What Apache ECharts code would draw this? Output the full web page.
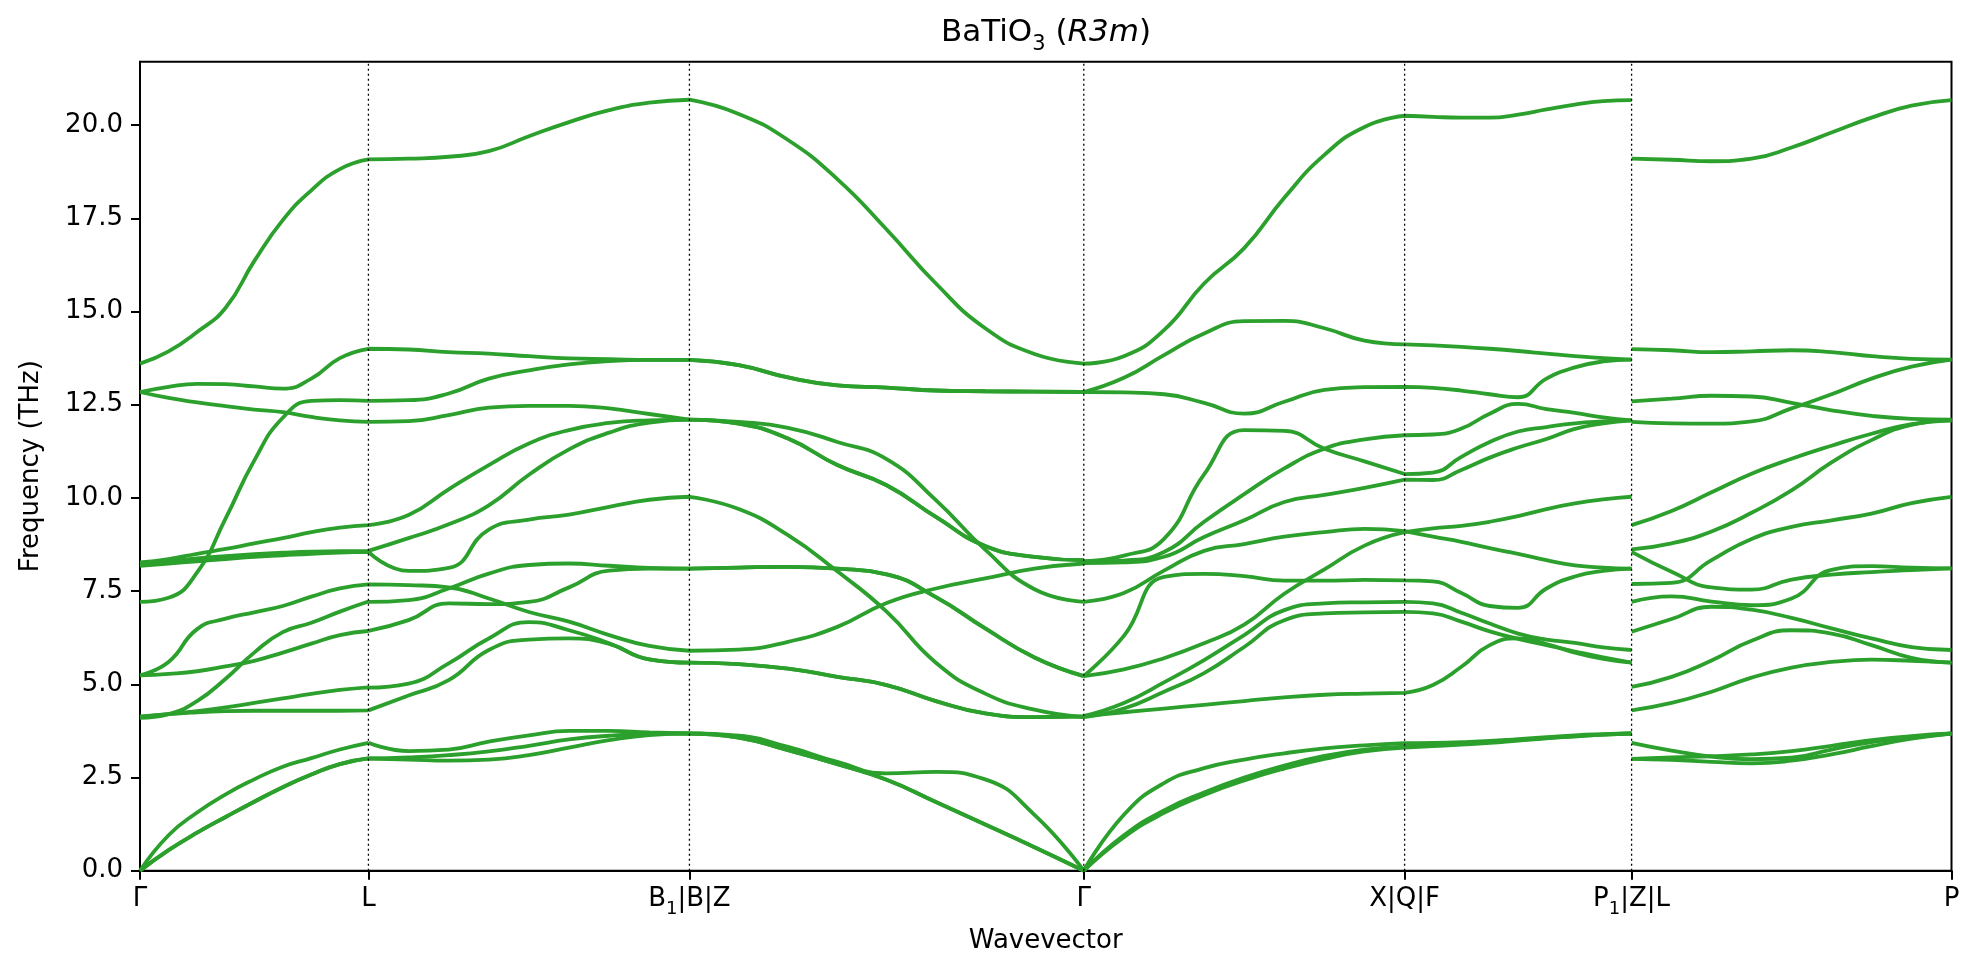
<!DOCTYPE html>
<html>
<head>
<meta charset="utf-8">
<title>BaTiO3 phonon bands</title>
<script src="https://cdn.jsdelivr.net/npm/echarts@6/dist/echarts.min.js"></script>
<style>
  html, body { margin: 0; padding: 0; background: #fff; }
  #main { width: 1980px; height: 978px; }
</style>
</head>
<body>
<div id="main"></div>
<script>
// high-symmetry points along the path (fraction of total path length)
const kTicks = [0, 0.1261, 0.3033, 0.5210, 0.6981, 0.8234, 1.0];
const kLabels = ['Γ', 'L', 'B₁|B|Z', 'Γ', 'X|Q|F', 'P₁|Z|L', 'P'];
const yMax = 21.7;

// each segment: 15 branches, 9 evenly spaced samples from start to end point (THz)
const gammaL = [
  [13.60, 13.93, 14.45, 15.10, 16.35, 17.45, 18.25, 18.82, 19.08],
  [12.84, 12.98, 13.06, 13.05, 12.99, 12.93, 13.20, 13.75, 14.00],
  [12.84, 12.68, 12.56, 12.46, 12.37, 12.30, 12.17, 12.08, 12.04],
  [7.21, 7.32, 8.00, 9.45, 11.00, 12.15, 12.60, 12.62, 12.60],
  [8.27, 8.36, 8.50, 8.63, 8.78, 8.92, 9.08, 9.20, 9.27],
  [8.23, 8.30, 8.38, 8.44, 8.49, 8.53, 8.56, 8.57, 8.58],
  [8.18, 8.24, 8.30, 8.36, 8.42, 8.46, 8.50, 8.53, 8.55],
  [5.24, 5.60, 6.48, 6.76, 6.93, 7.10, 7.35, 7.57, 7.68],
  [5.24, 5.28, 5.35, 5.48, 5.63, 5.85, 6.09, 6.32, 6.43],
  [4.10, 4.20, 4.55, 5.15, 5.85, 6.40, 6.65, 6.95, 7.22],
  [4.14, 4.20, 4.28, 4.38, 4.50, 4.62, 4.74, 4.85, 4.92],
  [4.12, 4.20, 4.25, 4.28, 4.29, 4.29, 4.29, 4.29, 4.30],
  [0.00, 0.95, 1.56, 2.05, 2.45, 2.79, 3.02, 3.25, 3.43],
  [0.00, 0.55, 1.02, 1.44, 1.85, 2.24, 2.58, 2.86, 3.01],
  [0.00, 0.55, 1.02, 1.44, 1.85, 2.24, 2.58, 2.86, 3.01]
];
const lB = [
  [19.08, 19.10, 19.15, 19.30, 19.70, 20.08, 20.40, 20.60, 20.68],
  [14.00, 13.98, 13.91, 13.87, 13.80, 13.74, 13.72, 13.70, 13.70],
  [12.60, 12.62, 12.80, 13.20, 13.42, 13.58, 13.67, 13.70, 13.70],
  [12.04, 12.06, 12.22, 12.42, 12.47, 12.47, 12.40, 12.25, 12.10],
  [9.27, 9.54, 10.23, 10.88, 11.46, 11.82, 12.01, 12.08, 12.10],
  [8.58, 8.92, 9.29, 9.80, 10.62, 11.30, 11.75, 12.02, 12.10],
  [8.55, 8.04, 8.12, 9.15, 9.42, 9.55, 9.76, 9.95, 10.03],
  [7.68, 7.66, 7.60, 7.30, 6.94, 6.68, 6.32, 6.03, 5.90],
  [7.21, 7.26, 7.57, 7.97, 8.20, 8.24, 8.18, 8.12, 8.10],
  [6.43, 6.72, 7.17, 7.15, 7.21, 7.60, 8.05, 8.10, 8.10],
  [4.91, 5.02, 5.56, 6.23, 6.67, 6.45, 6.10, 5.67, 5.58],
  [4.30, 4.70, 5.11, 5.92, 6.20, 6.23, 6.08, 5.67, 5.58],
  [3.43, 3.21, 3.25, 3.46, 3.63, 3.75, 3.75, 3.71, 3.68],
  [3.01, 3.04, 3.10, 3.20, 3.35, 3.52, 3.62, 3.67, 3.68],
  [3.01, 2.98, 2.95, 2.98, 3.10, 3.30, 3.50, 3.64, 3.68]
];
const bGamma = [
  [20.68, 20.30, 19.60, 18.55, 17.20, 15.75, 14.55, 13.86, 13.60],
  [13.70, 13.56, 13.23, 13.02, 12.96, 12.88, 12.86, 12.85, 12.84],
  [13.70, 13.56, 13.23, 13.02, 12.96, 12.88, 12.86, 12.85, 12.84],
  [12.10, 12.04, 11.88, 11.50, 11.04, 9.94, 8.61, 7.55, 7.21],
  [12.10, 11.99, 11.59, 10.88, 10.34, 9.49, 8.71, 8.42, 8.33],
  [12.10, 11.99, 11.59, 10.88, 10.34, 9.49, 8.71, 8.42, 8.33],
  [10.03, 9.70, 9.00, 8.03, 6.95, 5.58, 4.75, 4.32, 4.12],
  [5.90, 5.93, 6.14, 6.54, 7.18, 7.57, 7.84, 8.10, 8.24],
  [8.10, 8.13, 8.15, 8.10, 7.95, 7.34, 6.50, 5.72, 5.22],
  [8.10, 8.13, 8.15, 8.10, 7.95, 7.34, 6.50, 5.72, 5.22],
  [5.58, 5.54, 5.42, 5.20, 4.98, 4.55, 4.22, 4.12, 4.14],
  [5.58, 5.54, 5.42, 5.20, 4.98, 4.55, 4.22, 4.12, 4.14],
  [3.68, 3.62, 3.32, 2.92, 2.61, 2.65, 2.45, 1.50, 0.00],
  [3.68, 3.57, 3.23, 2.86, 2.44, 1.84, 1.24, 0.63, 0.00],
  [3.68, 3.57, 3.23, 2.86, 2.44, 1.84, 1.24, 0.63, 0.00]
];
const gammaX = [
  [13.60, 13.80, 14.50, 15.75, 16.70, 18.05, 19.20, 19.95, 20.25],
  [12.84, 13.22, 13.83, 14.41, 14.74, 14.75, 14.55, 14.22, 14.12],
  [12.84, 12.83, 12.78, 12.55, 12.26, 12.58, 12.90, 12.97, 12.98],
  [8.30, 8.45, 8.90, 10.63, 11.82, 11.80, 11.32, 10.98, 10.64],
  [8.28, 8.32, 8.55, 9.36, 10.10, 10.79, 11.32, 11.57, 11.68],
  [8.25, 8.27, 8.42, 8.95, 9.40, 9.89, 10.08, 10.27, 10.49],
  [7.21, 7.45, 8.05, 8.58, 8.76, 8.96, 9.08, 9.17, 9.11],
  [5.22, 5.40, 5.70, 6.10, 6.60, 7.43, 8.08, 8.72, 9.08],
  [5.22, 6.30, 7.88, 7.96, 7.90, 7.78, 7.78, 7.80, 7.79],
  [4.15, 4.50, 5.05, 5.65, 6.32, 6.99, 7.17, 7.20, 7.21],
  [4.12, 4.35, 4.80, 5.30, 6.00, 6.72, 6.90, 6.93, 6.94],
  [4.15, 4.25, 4.35, 4.45, 4.55, 4.65, 4.72, 4.75, 4.77],
  [0.00, 1.50, 2.35, 2.75, 2.98, 3.15, 3.28, 3.36, 3.42],
  [0.00, 0.95, 1.62, 2.10, 2.50, 2.82, 3.08, 3.25, 3.33],
  [0.00, 0.90, 1.55, 2.03, 2.42, 2.74, 3.00, 3.20, 3.30]
];
const xP1 = [
  [20.25, 20.22, 20.20, 20.20, 20.28, 20.42, 20.55, 20.64, 20.67],
  [14.12, 14.09, 14.05, 14.00, 13.94, 13.87, 13.80, 13.75, 13.71],
  [12.98, 12.95, 12.88, 12.78, 12.70, 13.20, 13.50, 13.66, 13.71],
  [11.68, 11.70, 11.86, 12.26, 12.52, 12.38, 12.28, 12.16, 12.08],
  [10.64, 10.68, 11.10, 11.50, 11.78, 11.90, 12.00, 12.05, 12.08],
  [10.49, 10.48, 10.75, 11.08, 11.35, 11.58, 11.85, 12.00, 12.08],
  [9.11, 8.96, 8.82, 8.65, 8.50, 8.33, 8.19, 8.13, 8.10],
  [9.08, 9.18, 9.25, 9.36, 9.51, 9.70, 9.85, 9.96, 10.03],
  [7.79, 7.76, 7.45, 7.10, 7.05, 7.57, 7.89, 8.04, 8.10],
  [7.21, 7.17, 6.92, 6.63, 6.36, 6.20, 6.11, 5.99, 5.92],
  [6.94, 6.90, 6.68, 6.42, 6.22, 6.05, 5.88, 5.72, 5.58],
  [4.77, 4.98, 5.47, 6.05, 6.23, 6.08, 5.85, 5.68, 5.58],
  [3.42, 3.43, 3.45, 3.48, 3.53, 3.58, 3.63, 3.66, 3.68],
  [3.33, 3.36, 3.40, 3.45, 3.50, 3.56, 3.61, 3.65, 3.68],
  [3.30, 3.34, 3.38, 3.43, 3.49, 3.55, 3.60, 3.65, 3.68]
];
const zP = [
  [19.10, 19.07, 19.03, 19.10, 19.40, 19.80, 20.20, 20.52, 20.67],
  [13.99, 13.96, 13.91, 13.93, 13.96, 13.91, 13.80, 13.73, 13.71],
  [12.59, 12.66, 12.74, 12.72, 12.55, 12.35, 12.20, 12.12, 12.10],
  [12.04, 12.00, 11.99, 12.05, 12.40, 12.78, 13.20, 13.52, 13.71],
  [9.27, 9.65, 10.15, 10.65, 11.05, 11.40, 11.72, 11.98, 12.08],
  [8.62, 8.78, 9.10, 9.60, 10.20, 10.95, 11.55, 11.96, 12.08],
  [8.55, 8.02, 7.60, 7.54, 7.81, 7.94, 8.01, 8.06, 8.11],
  [7.69, 7.72, 8.33, 8.90, 9.22, 9.40, 9.58, 9.86, 10.03],
  [7.21, 7.36, 7.22, 7.12, 7.30, 8.07, 8.17, 8.13, 8.11],
  [6.41, 6.75, 7.08, 7.00, 6.78, 6.50, 6.23, 6.00, 5.92],
  [4.93, 5.20, 5.64, 6.17, 6.45, 6.36, 6.05, 5.71, 5.58],
  [4.30, 4.50, 4.80, 5.18, 5.45, 5.60, 5.66, 5.63, 5.58],
  [3.43, 3.22, 3.06, 2.99, 3.03, 3.25, 3.45, 3.58, 3.68],
  [3.00, 3.04, 3.07, 3.12, 3.21, 3.35, 3.50, 3.61, 3.68],
  [3.00, 2.97, 2.92, 2.88, 2.95, 3.12, 3.34, 3.54, 3.68]
];

// segment -> [branches, start tick index, end tick index]
const segments = [[gammaL, 0, 1], [lB, 1, 2], [bGamma, 2, 3], [gammaX, 3, 4], [xP1, 4, 5], [zP, 5, 6]];

const green = '#2ca02c';
const font = 'DejaVu Sans';

function richLabel(txt) {
  return '{n|' + txt.replace(/₁/g, '}{s|1}{n|') + '}';
}

let series = [];
for (let b = 0; b < 15; b++) {
  let data = [];
  segments.forEach(([set, i0, i1]) => {
    const x0 = kTicks[i0], x1 = kTicks[i1];
    const vals = set[b];
    const n = vals.length - 1;
    vals.forEach((v, j) => data.push([x0 + (x1 - x0) * j / n, v]));
    data.push([x1, '-']);
  });
  series.push({
    type: 'line',
    data: data,
    smooth: 0.5,
    showSymbol: false,
    silent: true,
    lineStyle: { color: green, width: 3.8 },
    z: 2
  });
}
// dotted vertical lines at the inner high-symmetry points
kTicks.slice(1, -1).forEach(x => {
  series.push({
    type: 'line',
    data: [[x, 0], [x, yMax]],
    showSymbol: false,
    silent: true,
    lineStyle: { color: '#000', type: [2, 3], width: 1.3 },
    z: 3
  });
});

const option = {
  animation: false,
  backgroundColor: '#fff',
  title: {
    text: '{n|BaTiO}{s|3}{n| (}{i|R3m}{n|)}',
    left: 1041,
    top: 12,
    textAlign: 'center',
    textStyle: {
      fontFamily: font, fontSize: 31, color: '#000', fontWeight: 'normal',
      rich: {
        n: { fontFamily: font, fontSize: 31, color: '#000', lineHeight: 38, verticalAlign: 'top' },
        s: { fontFamily: font, fontSize: 21, color: '#000', lineHeight: 20, verticalAlign: 'bottom' },
        i: { fontFamily: font, fontSize: 31, color: '#000', fontStyle: 'italic', lineHeight: 38, verticalAlign: 'top' }
      }
    }
  },
  grid: {
    left: 140, right: 28.5, top: 61.7, bottom: 107.3,
    show: true, borderColor: '#000', borderWidth: 2
  },
  xAxis: {
    type: 'value',
    min: 0, max: 1,
    name: 'Wavevector',
    nameLocation: 'middle',
    nameGap: 58,
    nameTextStyle: { fontFamily: font, fontSize: 26, color: '#000' },
    axisLine: { onZero: false, lineStyle: { color: '#000', width: 2 } },
    axisTick: { customValues: kTicks, length: 9, lineStyle: { color: '#000', width: 2 } },
    axisLabel: {
      customValues: kTicks,
      margin: 16,
      formatter: (v) => {
        let i = kTicks.findIndex(t => Math.abs(t - v) < 1e-6);
        return i < 0 ? '' : richLabel(kLabels[i]);
      },
      rich: {
        n: { fontFamily: font, fontSize: 26, color: '#000', lineHeight: 32, verticalAlign: 'top' },
        s: { fontFamily: font, fontSize: 18, color: '#000', lineHeight: 18, verticalAlign: 'bottom' }
      }
    },
    splitLine: { show: false }
  },
  yAxis: {
    type: 'value',
    min: 0, max: yMax, interval: 2.5,
    name: 'Frequency (THz)',
    nameLocation: 'middle',
    nameGap: 96,
    nameTextStyle: { fontFamily: font, fontSize: 26, color: '#000' },
    axisLine: { show: true, lineStyle: { color: '#000', width: 2 } },
    axisTick: { show: true, length: 9, lineStyle: { color: '#000', width: 2 } },
    axisLabel: {
      fontFamily: font, fontSize: 26, color: '#000', margin: 17,
      showMaxLabel: false,
      formatter: (v) => v.toFixed(1)
    },
    splitLine: { show: false }
  },
  series: series
};

echarts.init(document.getElementById('main')).setOption(option);
</script>
</body>
</html>
